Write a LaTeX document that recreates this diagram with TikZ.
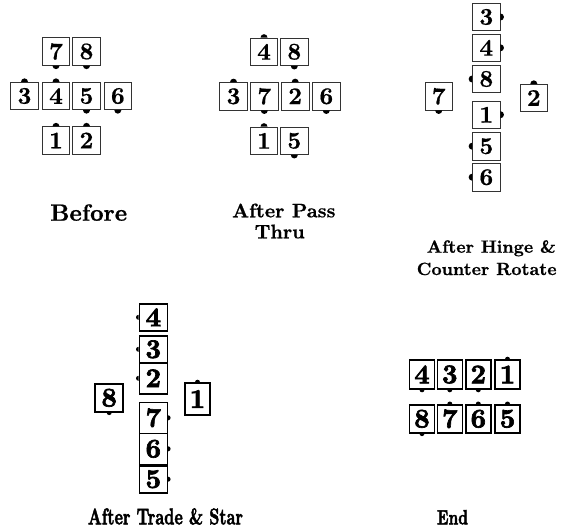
\documentclass[tikz,border=0pt]{standalone}
\usepackage{graphicx}
\usepackage{fontspec}
\newfontfamily\heavyfont[FakeBold=2.5]{lmroman10-bold.otf}
\newfontfamily\labelfont[FakeBold=0.8]{lmroman10-bold.otf}
\newfontfamily\digitfont[FakeBold=0.6]{lmroman10-bold.otf}
\newcommand\dotN[2][3.5pt]{\fill ([xshift=#1]#2.north) arc[start angle=0,end angle=180,radius=#1] -- cycle;}
\newcommand\dotS[2][3.5pt]{\fill ([xshift=-#1]#2.south) arc[start angle=180,end angle=360,radius=#1] -- cycle;}
\newcommand\dotE[2][3.5pt]{\fill ([yshift=-#1]#2.east) arc[start angle=-90,end angle=90,radius=#1] -- cycle;}
\newcommand\dotW[2][3.5pt]{\fill ([yshift=#1]#2.west) arc[start angle=90,end angle=270,radius=#1] -- cycle;}
\tikzset{
  cbox/.style={draw=black!80, line width=0.8pt, minimum width=27.5pt, minimum height=27.5pt, inner sep=0pt, font=\fontsize{24}{24}\selectfont\digitfont},
  gbox/.style={draw=black, line width=1.6pt, minimum width=28pt, minimum height=27pt, inner sep=0pt, font=\fontsize{27}{27}\selectfont\heavyfont},
  lbl/.style={anchor=base, inner sep=0pt},
}
\begin{document}
\begin{tikzpicture}[x=1pt,y=-1pt]
\useasboundingbox[fill=white] (0,0) rectangle (561,531);
% ---- Before
\node[cbox] (a7) at (56,51.5) {7};
\node[cbox] (a8) at (86.5,51.5) {8};
\node[cbox] (a3) at (24.5,96) {3};
\node[cbox] (a4) at (56,96) {4};
\node[cbox] (a5) at (86.5,96) {5};
\node[cbox] (a6) at (117.8,96) {6};
\node[cbox] (a1) at (56,140.5) {1};
\node[cbox] (a2) at (86.5,140.5) {2};
\dotS{a7}\dotS{a8}\dotN{a3}\dotN{a4}\dotS{a5}\dotS{a6}\dotN{a1}\dotN{a2}
\node[lbl,font=\fontsize{23.5}{23.5}\selectfont\labelfont] (tA) at (88.7,220.7) {Before};
% ---- After Pass Thru
\node[cbox] (b4) at (264,51.8) {4};
\node[cbox] (b8) at (294.3,51.8) {8};
\node[cbox] (b3) at (233.5,96.3) {3};
\node[cbox] (b7) at (264.3,96.3) {7};
\node[cbox] (b2) at (295.2,96.3) {2};
\node[cbox] (b6) at (326.3,96.3) {6};
\node[cbox] (b1) at (264,140.8) {1};
\node[cbox] (b5) at (294.3,140.8) {5};
\dotN{b4}\dotS{b8}\dotN{b3}\dotS{b7}\dotN{b2}\dotS{b6}\dotN{b1}\dotS{b5}
\node[lbl,font=\fontsize{19.6}{19.6}\selectfont\labelfont] (tB1) at (283.8,217.3) {After Pass};
\node[lbl,font=\fontsize{19.6}{19.6}\selectfont\labelfont] (tB2) at (279.7,238.3) {Thru};
% ---- After Hinge & Counter Rotate
\node[cbox] (c3) at (486.3,17) {3};
\node[cbox] (c4) at (486.3,47.8) {4};
\node[cbox] (c8) at (486.3,79) {8};
\node[cbox] (c1) at (486.3,114.7) {1};
\node[cbox] (c5) at (486.3,146.2) {5};
\node[cbox] (c6) at (486.3,177.2) {6};
\node[cbox] (c7) at (438.7,96.3) {7};
\node[cbox] (c2) at (533.8,98) {2};
\dotE{c3}\dotE{c4}\dotW{c8}\dotE{c1}\dotW{c5}\dotW{c6}\dotS{c7}\dotN{c2}
\node[lbl,font=\fontsize{17.7}{17.7}\selectfont\labelfont] (tC1) at (491.3,252.7) {After Hinge \&};
\node[lbl,font=\fontsize{17.7}{17.7}\selectfont\labelfont] (tC2) at (486.7,275) {Counter Rotate};
% ---- After Trade & Star
\node[gbox] (d4) at (153.3,317.3) {4};
\node[gbox] (d3) at (153.3,349.3) {3};
\node[gbox,minimum height=31pt] (d2) at (153.3,378.3) {2};
\node[gbox,minimum height=31pt] (d7) at (153.3,417.8) {7};
\node[gbox,minimum height=31pt] (d6) at (153.3,448.8) {6};
\node[gbox] (d5) at (153.3,479.2) {5};
\node[gbox,minimum height=28pt] (d8) at (109.2,397.8) {8};
\node[gbox,minimum width=25pt,minimum height=32pt] (d1) at (197.5,399) {1};
\dotW[2.5pt]{d4}\dotW[2.5pt]{d3}\dotW[2.5pt]{d2}\dotE[2.5pt]{d7}\dotE[2.5pt]{d6}\dotE[2.5pt]{d5}\dotS[2.5pt]{d8}\dotN[2.5pt]{d1}
\node[lbl] (tD) at (165.5,524.3) {\resizebox{155pt}{16pt}{\heavyfont After Trade \& Star}};
% ---- End
\node[gbox,minimum width=25pt,minimum height=29pt] (e4) at (422,374.5) {4};
\node[gbox,minimum width=25pt,minimum height=29pt] (e3) at (449.8,374.5) {3};
\node[gbox,minimum width=25pt,minimum height=29pt] (e2) at (478.3,374.5) {2};
\node[gbox,minimum width=25pt,minimum height=29pt] (e1) at (507.5,374.5) {1};
\node[gbox,minimum width=25pt,minimum height=28pt] (f8) at (422,418.8) {8};
\node[gbox,minimum width=25pt,minimum height=28pt] (f7) at (449.8,418.8) {7};
\node[gbox,minimum width=25pt,minimum height=28pt] (f6) at (478.3,418.8) {6};
\node[gbox,minimum width=25pt,minimum height=28pt] (f5) at (507.5,418.8) {5};
\dotS[2.5pt]{e4}\dotS[2.5pt]{e3}\dotS[2.5pt]{e2}\dotN[2.5pt]{e1}
\dotS[2.5pt]{f8}\dotN[2.5pt]{f7}\dotN[2.5pt]{f6}\dotN[2.5pt]{f5}
\node[lbl] (tE) at (452.5,524.3) {\resizebox{31pt}{14.3pt}{\heavyfont End}};
\end{tikzpicture}
\end{document}
